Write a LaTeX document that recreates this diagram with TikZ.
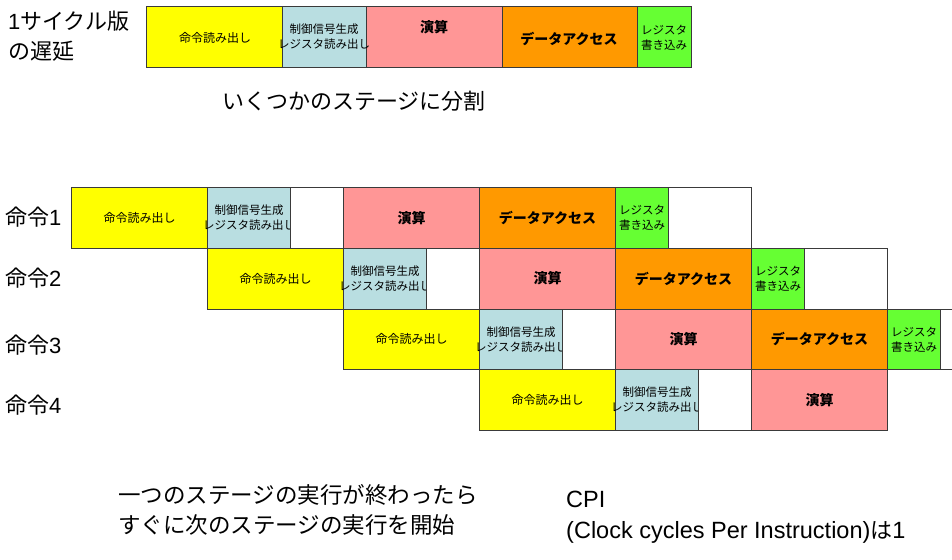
\documentclass[tikz,border=0pt]{standalone}
\usepackage{fontspec}
\setmainfont{Noto Sans CJK JP}
\newfontfamily\lat{Liberation Sans}
\definecolor{cyel}{HTML}{FFFF00}
\definecolor{cblu}{HTML}{B9DEE1}
\definecolor{cpnk}{HTML}{FF9696}
\definecolor{corg}{HTML}{FF9900}
\definecolor{cgrn}{HTML}{66FF33}
\definecolor{cedge}{HTML}{3A3A3A}
\newcommand\mk[1]{\makebox[0pt]{#1}}
\tikzset{
  stg/.style={draw=cedge, line width=1pt, inner sep=0pt, anchor=north west,
    minimum height=60.75pt, align=center, font=\fontsize{12}{15}\selectfont},
  sif/.style={stg, fill=cyel, minimum width=136pt},
  sid/.style={stg, fill=cblu, minimum width=83pt, font=\fontsize{11.5}{15}\selectfont},
  sex/.style={stg, fill=cpnk, minimum width=136pt, font=\fontsize{14}{17}\selectfont\bfseries},
  smem/.style={stg, fill=corg, minimum width=136pt, font=\fontsize{14}{17}\selectfont\bfseries},
  swb/.style={stg, fill=cgrn, minimum width=53pt, font=\fontsize{11.5}{15}\selectfont},
  sempty/.style={stg, fill=white},
  big/.style={font=\fontsize{22}{30}\selectfont, anchor=west, inner sep=0pt, align=left},
  tb/.style={draw=cedge, line width=1pt, inner sep=0pt, anchor=north west, minimum height=61pt},
  tt/.style={inner sep=0pt, align=center, font=\fontsize{11.5}{15}\selectfont},
  ttb/.style={inner sep=0pt, font=\fontsize{14}{17}\selectfont\bfseries},
}
\begin{document}
\begin{tikzpicture}[x=1pt,y=-1pt]
\useasboundingbox (0,0) rectangle (952,559);
% top single-cycle bar
\node[tb, fill=cyel, minimum width=136pt] (tif) at (146,6) {};
\node[tb, fill=cblu, minimum width=84pt] (tid) at (282,6) {};
\node[tb, fill=cpnk, minimum width=136pt] (tex) at (366,6) {};
\node[tb, fill=corg, minimum width=135pt] (tmem) at (502,6) {};
\node[tb, fill=cgrn, minimum width=54pt] (twb) at (637,6) {};
\node[tt, font=\fontsize{12}{15}\selectfont] (tift) at (215,38) {命令読み出し};
\node[tt] (tidt) at (324,37) {\mk{制御信号生成}\\\mk{レジスタ読み出し}};
\node[ttb] (text) at (434,27) {演算};
\node[ttb] (tmemt) at (569,39) {データアクセス};
\node[tt] (twbt) at (664,38) {\mk{レジスタ}\\\mk{書き込み}};
\node[big] (lab0) at (8,36) {{\lat 1}サイクル版\\の遅延};
\node[big] (split) at (222,101) {いくつかのステージに分割};
% pipeline
\begin{scope}
\clip (0,0) rectangle (952,559);
\foreach \i in {0,1,2}{
  \pgfmathsetmacro\xo{71+136*\i}
  \pgfmathsetmacro\yt{187+60.75*\i}
  \node[sif] (if\i) at (\xo,\yt) {命令読み出し};
  \node[sid] (id\i) at (\xo+136,\yt) {\mk{制御信号生成}\\\mk{レジスタ読み出し}};
  \node[sempty, minimum width=53pt] (wa\i) at (\xo+219,\yt) {};
  \node[sex] (ex\i) at (\xo+272,\yt) {演算};
  \node[smem] (mem\i) at (\xo+408,\yt) {データアクセス};
  \node[swb] (wb\i) at (\xo+544,\yt) {\mk{レジスタ}\\\mk{書き込み}};
  \node[sempty, minimum width=83pt] (wc\i) at (\xo+597,\yt) {};
}
\node[sif] (if3) at (479,369.25) {命令読み出し};
\node[sid] (id3) at (615,369.25) {\mk{制御信号生成}\\\mk{レジスタ読み出し}};
\node[sempty, minimum width=53pt] (wa3) at (698,369.25) {};
\node[sex] (ex3) at (751,369.25) {演算};
\end{scope}
\node[big] (r1) at (5,217) {命令{\lat 1}};
\node[big] (r2) at (5,278) {命令{\lat 2}};
\node[big] (r3) at (5,345) {命令{\lat 3}};
\node[big] (r4) at (5,405) {命令{\lat 4}};
\node[big, anchor=north west, font=\fontsize{22.5}{30}\selectfont] (note) at (118,484) {一つのステージの実行が終わったら\\すぐに次のステージの実行を開始};
\node[big, anchor=north west, font=\fontsize{22}{30.5}\selectfont] (cpi) at (566,491) {{\lat\fontsize{23.5}{30.5}\selectfont CPI}\\{\lat\fontsize{23.5}{30.5}\selectfont (Clock cycles Per Instruction)}は{\lat\fontsize{23.5}{30.5}\selectfont 1}};
\end{tikzpicture}
\end{document}
